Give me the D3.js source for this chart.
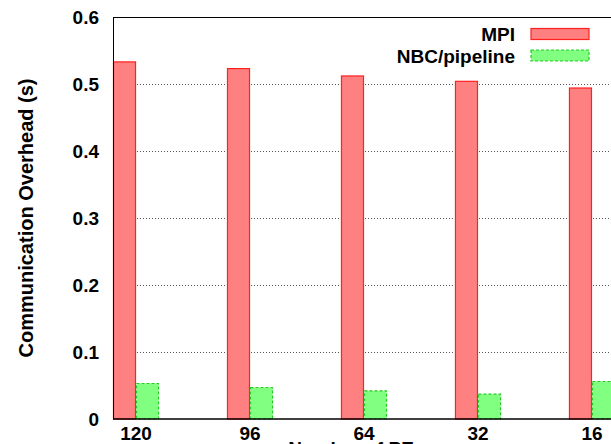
<!DOCTYPE html>
<html>
<head>
<meta charset="utf-8">
<script src="https://cdn.jsdelivr.net/npm/d3@7"></script>
<style>
  html, body { margin: 0; padding: 0; background: #fff; overflow: hidden; }
  svg { display: block; }
  text { font-family: "Liberation Sans", Arial, Helvetica, sans-serif; font-weight: bold; fill: #000; }
</style>
</head>
<body>
<svg id="chart" width="611" height="444"></svg>
<script>
// Number of processing elements on the x axis
const categories = ["120", "96", "64", "32", "16"];
const seriesNames = ["MPI", "NBC/pipeline"];
// Communication overhead in seconds
const mpiValues = [0.533, 0.523, 0.512, 0.504, 0.494];
const nbcValues = [0.053, 0.047, 0.042, 0.037, 0.056];
const yTicks = [0, 0.1, 0.2, 0.3, 0.4, 0.5, 0.6];
const yTickLabels = ["0", "0.1", "0.2", "0.3", "0.4", "0.5", "0.6"];

const styles = {
  "MPI": { fill: "#ff8080", stroke: "#ff2020", dash: null },
  "NBC/pipeline": { fill: "#80ff80", stroke: "#22cc22", dash: "3,2" }
};

const svg = d3.select("#chart");
const plotLeft = 113, plotRight = 615, plotTop = 17, plotBottom = 419;

const x = d3.scaleBand()
  .domain(categories)
  .range([plotLeft, plotRight])
  .paddingInner(0.596)
  .paddingOuter(0)
  .align(0);

const xInner = d3.scaleBand()
  .domain(seriesNames)
  .range([0, x.bandwidth()]);

const y = d3.scaleLinear().domain([0, 0.6]).range([plotBottom, plotTop]);

// Dotted horizontal grid
svg.append("g")
  .selectAll("line")
  .data(yTicks.filter(t => t > 0 && t < 0.6))
  .join("line")
  .attr("x1", plotLeft).attr("x2", plotRight)
  .attr("y1", d => Math.round(y(d)) + 0.5).attr("y2", d => Math.round(y(d)) + 0.5)
  .attr("stroke", "#555")
  .attr("stroke-width", 1)
  .attr("stroke-dasharray", "1,2");

// Bars
const rows = categories.map((c, i) => ({ cat: c, values: [
  { name: "MPI", v: mpiValues[i] },
  { name: "NBC/pipeline", v: nbcValues[i] }
]}));

const groups = svg.append("g")
  .selectAll("g")
  .data(rows)
  .join("g")
  .attr("transform", d => `translate(${x(d.cat)},0)`);

groups.selectAll("rect")
  .data(d => d.values)
  .join("rect")
  .attr("x", d => xInner(d.name) + 0.5)
  .attr("width", xInner.bandwidth() - 1)
  .attr("y", d => y(d.v))
  .attr("height", d => y(0) - y(d.v))
  .attr("fill", d => styles[d.name].fill)
  .attr("stroke", d => styles[d.name].stroke)
  .attr("stroke-width", 1.2)
  .attr("stroke-dasharray", d => styles[d.name].dash);

// Frame
svg.append("line").attr("x1", plotLeft).attr("x2", plotRight).attr("y1", plotTop + 0.5).attr("y2", plotTop + 0.5)
  .attr("stroke", "#000").attr("stroke-width", 1);
svg.append("line").attr("x1", plotLeft).attr("x2", plotRight).attr("y1", plotBottom).attr("y2", plotBottom)
  .attr("stroke", "#000").attr("stroke-width", 1.6);
svg.append("line").attr("x1", plotLeft + 0.5).attr("x2", plotLeft + 0.5).attr("y1", plotTop).attr("y2", plotBottom)
  .attr("stroke", "#000").attr("stroke-width", 1);

// Y axis labels
const yAxis = d3.axisLeft(y)
  .tickValues(yTicks)
  .tickFormat((d, i) => yTickLabels[i])
  .tickSize(0)
  .tickPadding(14);
const gy = svg.append("g").attr("transform", `translate(${plotLeft},0)`).call(yAxis);
gy.select(".domain").remove();
gy.selectAll("text").attr("font-size", 19).style("font-family", "'Liberation Sans', Arial, sans-serif")
  .style("font-weight", "bold").attr("fill", "#000").attr("dy", "0.34em");

// X axis labels
const xAxis = d3.axisBottom(x).tickSize(0).tickPadding(8);
const gx = svg.append("g").attr("transform", `translate(0,${plotBottom})`).call(xAxis);
gx.select(".domain").remove();
gx.selectAll("text").attr("font-size", 19).style("font-family", "'Liberation Sans', Arial, sans-serif")
  .style("font-weight", "bold").attr("fill", "#000");

// Axis titles
svg.append("text")
  .attr("transform", `translate(33,${(plotTop + plotBottom) / 2}) rotate(-90)`)
  .attr("text-anchor", "middle")
  .attr("font-size", 20)
  .text("Communication Overhead (s)");

svg.append("text")
  .attr("x", 351).attr("y", 455)
  .attr("text-anchor", "middle")
  .attr("font-size", 19)
  .text("Number of PE");

// Legend
const legend = svg.append("g")
  .selectAll("g")
  .data(seriesNames)
  .join("g")
  .attr("transform", (d, i) => `translate(0,${34 + i * 21.5})`);
legend.append("text")
  .attr("x", 515).attr("y", 7.3)
  .attr("text-anchor", "end")
  .attr("font-size", 19)
  .text(d => d);
legend.append("rect")
  .attr("x", 531).attr("y", -5.5)
  .attr("width", 58).attr("height", 11)
  .attr("fill", d => styles[d].fill)
  .attr("stroke", d => styles[d].stroke)
  .attr("stroke-width", 1.2)
  .attr("stroke-dasharray", d => styles[d].dash);
</script>
</body>
</html>
